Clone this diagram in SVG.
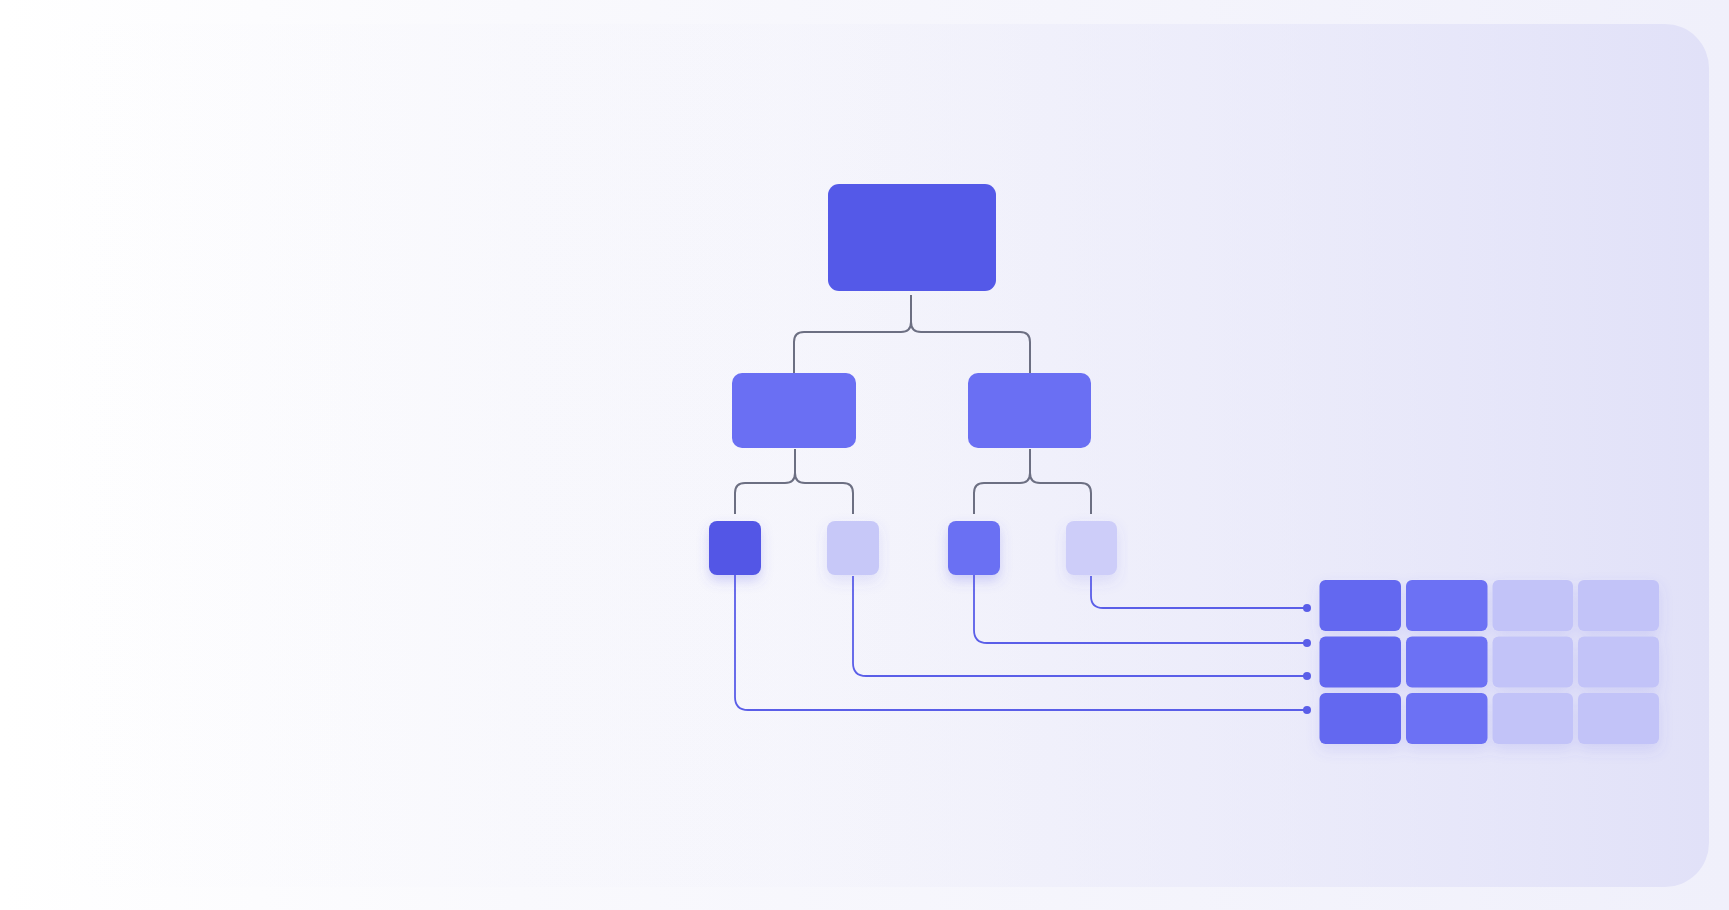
<svg xmlns="http://www.w3.org/2000/svg" width="1729" height="910" viewBox="0 0 1729 910">
  <defs>
    <linearGradient id="bg" x1="0" y1="0" x2="1" y2="0">
      <stop offset="0" stop-color="#ffffff"/>
      <stop offset="0.3" stop-color="#f9f9fd"/>
      <stop offset="1" stop-color="#f0f0fb"/>
    </linearGradient>
    <linearGradient id="panel" x1="0" y1="0" x2="1" y2="0">
      <stop offset="0" stop-color="#e6e6f9" stop-opacity="0"/>
      <stop offset="0.45" stop-color="#e8e8f9" stop-opacity="0.1"/>
      <stop offset="0.75" stop-color="#e4e4f9" stop-opacity="0.55"/>
      <stop offset="1" stop-color="#e1e1f8" stop-opacity="1"/>
    </linearGradient>
    <filter id="glow" x="-50%" y="-50%" width="200%" height="200%">
      <feDropShadow dx="0" dy="6" stdDeviation="6" flood-color="#5a5ee8" flood-opacity="0.25"/>
    </filter>
    <filter id="soft" x="-20%" y="-20%" width="140%" height="160%">
      <feDropShadow dx="0" dy="6" stdDeviation="7" flood-color="#5a5ee8" flood-opacity="0.14"/>
    </filter>
  </defs>
  <style>
    .gray { fill: none; stroke: #6c6f82; stroke-width: 2; }
    .blue { fill: none; stroke: #5a5ee8; stroke-width: 1.8; }
    .dot { fill: #5a5ee8; }
    .c-root { fill: #5459e8; }
    .c-mid { fill: #6a6ff3; }
    .c-dark { fill: #5256e6; }
    .c-light { fill: #c7c8f8; }
    .c-lighter { fill: #cdcdf9; }
    .cell-d1 { fill: #6368f0; }
    .cell-d2 { fill: #6c71f4; }
    .cell-l { fill: #c2c3f8; }
  </style>
  <rect x="0" y="0" width="1729" height="910" fill="url(#bg)"/>
  <rect x="40" y="24" width="1669" height="863" rx="44" fill="url(#panel)"/>

  <g id="connectors">
    <path class="gray" d="M911,295 V322 Q911,332 901,332 H804 Q794,332 794,342 V373"/>
    <path class="gray" d="M911,322 Q911,332 921,332 H1020 Q1030,332 1030,342 V373"/>
    <path class="gray" d="M795,449 V473 Q795,483 785,483 H745 Q735,483 735,493 V514"/>
    <path class="gray" d="M795,473 Q795,483 805,483 H843 Q853,483 853,493 V514"/>
    <path class="gray" d="M1030,449 V473 Q1030,483 1020,483 H984 Q974,483 974,493 V514"/>
    <path class="gray" d="M1030,473 Q1030,483 1040,483 H1081 Q1091,483 1091,493 V514"/>
    <path class="blue" d="M735,575 V697 Q735,710 748,710 H1307"/>
    <path class="blue" d="M853,576 V663 Q853,676 866,676 H1307"/>
    <path class="blue" d="M974,575 V630 Q974,643 987,643 H1307"/>
    <path class="blue" d="M1091,576 V596 Q1091,608 1103,608 H1307"/>
    <circle class="dot" cx="1307" cy="608" r="4"/>
    <circle class="dot" cx="1307" cy="643" r="4"/>
    <circle class="dot" cx="1307" cy="676" r="4"/>
    <circle class="dot" cx="1307" cy="710" r="4"/>
  </g>

  <g id="root"><rect class="c-root" x="828" y="184" width="168" height="107" rx="11"/></g>
  <g id="mid-left"><rect class="c-mid" x="732" y="373" width="124" height="75" rx="10"/></g>
  <g id="mid-right"><rect class="c-mid" x="968" y="373" width="123" height="75" rx="10"/></g>

  <g id="leaf-1" filter="url(#glow)"><rect class="c-dark" x="709" y="521" width="52" height="54" rx="8"/></g>
  <g id="leaf-2" filter="url(#soft)"><rect class="c-light" x="827" y="521" width="52" height="54" rx="8"/></g>
  <g id="leaf-3" filter="url(#glow)"><rect class="c-mid" x="948" y="521" width="52" height="54" rx="8"/></g>
  <g id="leaf-4" filter="url(#soft)"><rect class="c-lighter" x="1066" y="521" width="51" height="54" rx="8"/></g>

  <g id="grid" filter="url(#soft)">
    <rect class="cell-d1" x="1319.5" y="580" width="81.5" height="51" rx="6"/>
    <rect class="cell-d2" x="1406" y="580" width="81.5" height="51" rx="6"/>
    <rect class="cell-l" x="1492.5" y="580" width="80.5" height="51" rx="6"/>
    <rect class="cell-l" x="1578" y="580" width="81" height="51" rx="6"/>
    <rect class="cell-d1" x="1319.5" y="636.5" width="81.5" height="51" rx="6"/>
    <rect class="cell-d2" x="1406" y="636.5" width="81.5" height="51" rx="6"/>
    <rect class="cell-l" x="1492.5" y="636.5" width="80.5" height="51" rx="6"/>
    <rect class="cell-l" x="1578" y="636.5" width="81" height="51" rx="6"/>
    <rect class="cell-d1" x="1319.5" y="693" width="81.5" height="51" rx="6"/>
    <rect class="cell-d2" x="1406" y="693" width="81.5" height="51" rx="6"/>
    <rect class="cell-l" x="1492.5" y="693" width="80.5" height="51" rx="6"/>
    <rect class="cell-l" x="1578" y="693" width="81" height="51" rx="6"/>
  </g>
</svg>
